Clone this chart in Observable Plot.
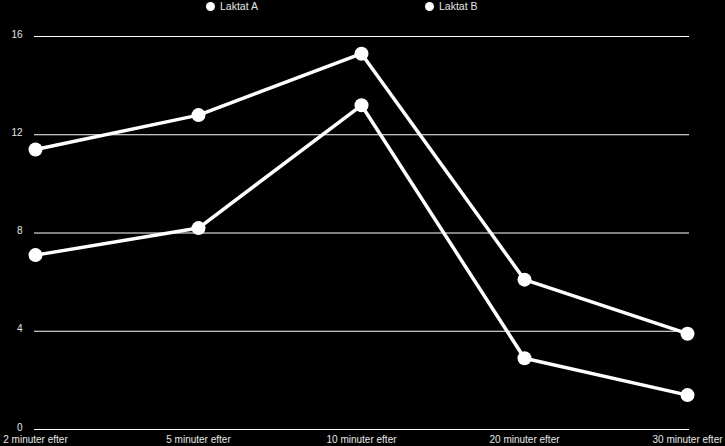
<!DOCTYPE html>
<html>
<head>
<meta charset="utf-8">
<script src="https://cdn.jsdelivr.net/npm/d3@7"></script>
<script src="https://cdn.jsdelivr.net/npm/@observablehq/plot@0.6"></script>
<style>
  html, body { margin: 0; padding: 0; background: #000; }
  #wrap { position: relative; width: 725px; height: 446px; overflow: hidden; }
  #legend { position: absolute; top: 0; left: 0; width: 725px; height: 14px; font: 10.5px "Liberation Sans", Arial, sans-serif; color: #e6e6e6; }
  .item { position: absolute; top: 0px; display: flex; align-items: center; }
  .sw { width: 9px; height: 9px; border-radius: 50%; background: #fff; margin-right: 5px; }
</style>
</head>
<body>
<div id="wrap">
  <div id="legend"></div>
  <div id="chart"></div>
</div>
<script>
const categories = ["2 minuter efter", "5 minuter efter", "10 minuter efter", "20 minuter efter", "30 minuter efter"];
const seriesNames = ["Laktat A", "Laktat B"];
const laktatA = [11.4, 12.8, 15.3, 6.1, 3.9];
const laktatB = [7.1, 8.2, 13.2, 2.9, 1.4];
const yTicks = [0, 4, 8, 12, 16];

const data = [];
categories.forEach((c, i) => {
  data.push({cat: c, value: laktatA[i], series: seriesNames[0]});
  data.push({cat: c, value: laktatB[i], series: seriesNames[1]});
});

const chart = Plot.plot({
  width: 725,
  height: 446,
  marginLeft: 34,
  marginRight: 36,
  marginTop: 36,
  marginBottom: 17,
  style: {background: "#000", color: "#e6e6e6", fontFamily: "'Liberation Sans', Arial, sans-serif", fontSize: "10px", overflow: "visible"},
  x: {type: "point", domain: categories, padding: 0, insetRight: 2},
  y: {domain: [0, 16], ticks: yTicks},
  marks: [
    Plot.ruleY(yTicks, {stroke: "#fff", strokeWidth: 1.2}),
    Plot.axisY({ticks: yTicks, tickSize: 0, tickPadding: 12, dy: -2, label: null, fill: "#e6e6e6", fontSize: 10}),
    Plot.axisX({tickSize: 0, tickPadding: 6, label: null, fill: "#e6e6e6", fontSize: 10}),
    Plot.line(data, {x: "cat", y: "value", z: "series", stroke: "#fff", strokeWidth: 3.5, strokeLinejoin: "round"}),
    Plot.dot(data, {x: "cat", y: "value", r: 7, fill: "#fff", stroke: "none"})
  ]
});
document.getElementById("chart").appendChild(chart);

const legend = document.getElementById("legend");
const positions = [206, 425];
seriesNames.forEach((name, i) => {
  const d = document.createElement("div");
  d.className = "item";
  d.style.left = positions[i] + "px";
  d.innerHTML = '<span class="sw"></span><span>' + name + '</span>';
  legend.appendChild(d);
});
</script>
</body>
</html>
